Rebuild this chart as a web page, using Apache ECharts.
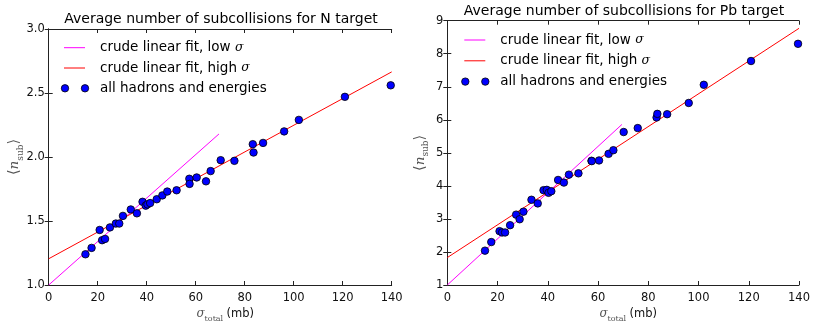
<!DOCTYPE html>
<html>
<head>
<meta charset="utf-8">
<script src="https://cdn.jsdelivr.net/npm/echarts@6/dist/echarts.min.js"></script>
<style>
  html, body { margin: 0; padding: 0; background: #fff; }
  #chart { width: 813px; height: 328px; }
</style>
</head>
<body>
<div id="chart"></div>
<script>
// Total cross-section (mb) for each hadron/energy combination
const sigmaTotal = [15.0, 17.5, 20.8, 21.8, 23.0, 25.0, 27.4, 28.8, 30.3, 33.5, 36.0, 38.3, 39.6, 40.3, 41.4,
  44.1, 46.4, 48.4, 52.2, 57.4, 57.5, 60.4, 64.2, 66.1, 70.2, 75.8, 83.3, 83.6, 87.5, 96.1, 102.1, 120.9, 139.6];
// Average number of subcollisions, N target
const nSubN = [1.24, 1.29, 1.43, 1.35, 1.36, 1.45, 1.48, 1.48, 1.54, 1.59, 1.56, 1.65, 1.62, 1.63, 1.64,
  1.67, 1.70, 1.73, 1.74, 1.83, 1.79, 1.84, 1.81, 1.89, 1.975, 1.97, 2.10, 2.035, 2.11, 2.20, 2.29, 2.47, 2.56];
// Average number of subcollisions, Pb target
const nSubPb = [2.04, 2.30, 2.63, 2.59, 2.59, 2.81, 3.13, 2.99, 3.22, 3.58, 3.47, 3.87, 3.88, 3.79, 3.84,
  4.18, 4.10, 4.34, 4.38, 4.76, 4.75, 4.77, 4.97, 5.08, 5.63, 5.75, 6.07, 6.18, 6.17, 6.51, 7.06, 7.78, 8.30];

// Crude linear fits: [sigma, <n_sub>] end points
const fitLowN = [[0, 1.0], [69.5, 2.18]];
const fitHighN = [[0, 1.205], [140, 2.665]];
const fitLowPb = [[0, 1.0], [69.5, 5.86]];
const fitHighPb = [[0, 1.83], [140, 8.77]];

const xTicks = [0, 20, 40, 60, 80, 100, 120, 140];
const yTicksN = ['1.0', '1.5', '2.0', '2.5', '3.0'];
const yTicksPb = ['1', '2', '3', '4', '5', '6', '7', '8', '9'];

const titles = ['Average number of subcollisions for N target', 'Average number of subcollisions for Pb target'];
const legendLabels = ['crude linear fit, low ', 'crude linear fit, high ', 'all hadrons and energies'];

const FONT = 'DejaVu Sans';
const SERIF = 'DejaVu Serif';
const MAGENTA = '#ff00ff', RED = '#ff0000', BLUE = '#0000ff';
const TICK_FONT = 11.5;

const grids = [
  { left: 48.7, top: 29, width: 343, height: 265.3 },
  { left: 447.3, top: 20.7, width: 352.7, height: 272.6 }
];

// Rich styles for the math-like axis names
const xNameRich = {
  m: { fontFamily: SERIF, fontStyle: 'italic', fontSize: 12, color: '#555', lineHeight: 18, verticalAlign: 'middle' },
  sub: { fontFamily: SERIF, fontSize: 8, color: '#555', lineHeight: 18, verticalAlign: 'bottom' },
  b: { fontFamily: FONT, fontSize: TICK_FONT, color: '#111', lineHeight: 18, verticalAlign: 'middle' }
};
const yNameRich = {
  m: { fontFamily: SERIF, fontStyle: 'italic', fontSize: 13.5, color: '#555', lineHeight: 20, verticalAlign: 'middle' },
  sub: { fontFamily: SERIF, fontSize: 9, color: '#555', lineHeight: 20, verticalAlign: 'bottom' },
  t: { fontFamily: FONT, fontSize: 14.5, color: '#555', lineHeight: 20, verticalAlign: 'middle' }
};

function xAxes(gi) {
  const base = {
    gridIndex: gi, type: 'value', min: 0, max: 140, interval: 20,
    axisLine: { lineStyle: { color: '#222', width: 1 } },
    axisTick: { inside: true, length: 4, lineStyle: { color: '#222' } },
    splitLine: { show: false }
  };
  return [
    Object.assign({}, base, {
      position: 'bottom',
      axisLabel: { fontFamily: FONT, fontSize: TICK_FONT, color: '#111', margin: 7,
        formatter: v => xTicks.includes(v) ? String(v) : '' },
      name: '{m|σ}{sub|total} {b|(mb)}', nameLocation: 'middle', nameGap: 20, nameMoveOverlap: false,
      nameTextStyle: { rich: xNameRich, padding: [0, 0, 0, 10] }
    }),
    Object.assign({}, base, { position: 'top', axisLabel: { show: false } })
  ];
}

function yAxes(gi, min, max, interval, labels, gap) {
  const base = {
    gridIndex: gi, type: 'value', min: min, max: max, interval: interval,
    axisLine: { show: true, lineStyle: { color: '#222', width: 1 } },
    axisTick: { show: true, inside: true, length: 4, lineStyle: { color: '#222' } },
    splitLine: { show: false }
  };
  return [
    Object.assign({}, base, {
      position: 'left',
      axisLabel: { fontFamily: FONT, fontSize: TICK_FONT, color: '#111', margin: 4,
        formatter: v => labels[Math.round((v - min) / interval)] },
      name: '{t|⟨}{m|n}{sub|sub}{t|⟩}', nameLocation: 'middle', nameGap: gap, nameRotate: 90,
      nameMoveOverlap: false,
      nameTextStyle: { rich: yNameRich }
    }),
    Object.assign({}, base, { position: 'right', axisLabel: { show: false } })
  ];
}

function panelSeries(gi, low, high, pts) {
  const axisIdx = { xAxisIndex: gi * 2, yAxisIndex: gi * 2 };
  return [
    Object.assign({ type: 'line', data: low, symbol: 'none', silent: true, z: 2,
      lineStyle: { color: MAGENTA, width: 1 } }, axisIdx),
    Object.assign({ type: 'line', data: high, symbol: 'none', silent: true, z: 2,
      lineStyle: { color: RED, width: 1 } }, axisIdx),
    Object.assign({ type: 'scatter', data: sigmaTotal.map((s, i) => [s, pts[i]]),
      symbol: 'circle', symbolSize: 7.5, z: 3,
      itemStyle: { color: BLUE, borderColor: '#000', borderWidth: 0.8, opacity: 1 } }, axisIdx)
  ];
}

// Matplotlib-style legend (no frame): line samples and a two-marker sample
function legendGraphics(x0, y0, gap) {
  const els = [];
  const colors = [MAGENTA, RED];
  for (let i = 0; i < 2; i++) {
    els.push({ type: 'line', shape: { x1: x0, y1: y0 + i * gap, x2: x0 + 21, y2: y0 + i * gap },
      style: { stroke: colors[i], lineWidth: 1 } });
  }
  [x0 + 1, x0 + 21].forEach(cx => els.push({ type: 'circle',
    shape: { cx: cx, cy: y0 + 2 * gap, r: 3.7 },
    style: { fill: BLUE, stroke: '#000', lineWidth: 0.8 } }));
  legendLabels.forEach((lab, i) => {
    els.push({ type: 'text', x: x0 + 36, y: y0 + i * gap,
      style: {
        text: i < 2 ? '{b|' + lab + '}{m|σ}' : '{b|' + lab + '}',
        rich: {
          b: { fontFamily: FONT, fontSize: 13.5, fill: '#000' },
          m: { fontFamily: SERIF, fontStyle: 'italic', fontSize: 12.5, fill: '#000' }
        },
        verticalAlign: 'middle', align: 'left'
      } });
  });
  return els;
}

const chart = echarts.init(document.getElementById('chart'), null, { renderer: 'canvas' });
chart.setOption({
  animation: false,
  backgroundColor: '#fff',
  title: [
    { text: titles[0], left: 221, top: 12, padding: 0, textAlign: 'center',
      textStyle: { fontFamily: FONT, fontSize: 14, fontWeight: 'normal', color: '#000' } },
    { text: titles[1], left: 624, top: 4, padding: 0, textAlign: 'center',
      textStyle: { fontFamily: FONT, fontSize: 14, fontWeight: 'normal', color: '#000' } }
  ],
  grid: grids,
  xAxis: xAxes(0).concat(xAxes(1)),
  yAxis: yAxes(0, 1.0, 3.0, 0.5, yTicksN, 24).concat(yAxes(1, 1, 9, 1, yTicksPb, 17)),
  series: panelSeries(0, fitLowN, fitHighN, nSubN).concat(panelSeries(1, fitLowPb, fitHighPb, nSubPb)),
  graphic: legendGraphics(64, 47.7, 20.3).concat(legendGraphics(464.3, 40, 20.8))
});
</script>
</body>
</html>
